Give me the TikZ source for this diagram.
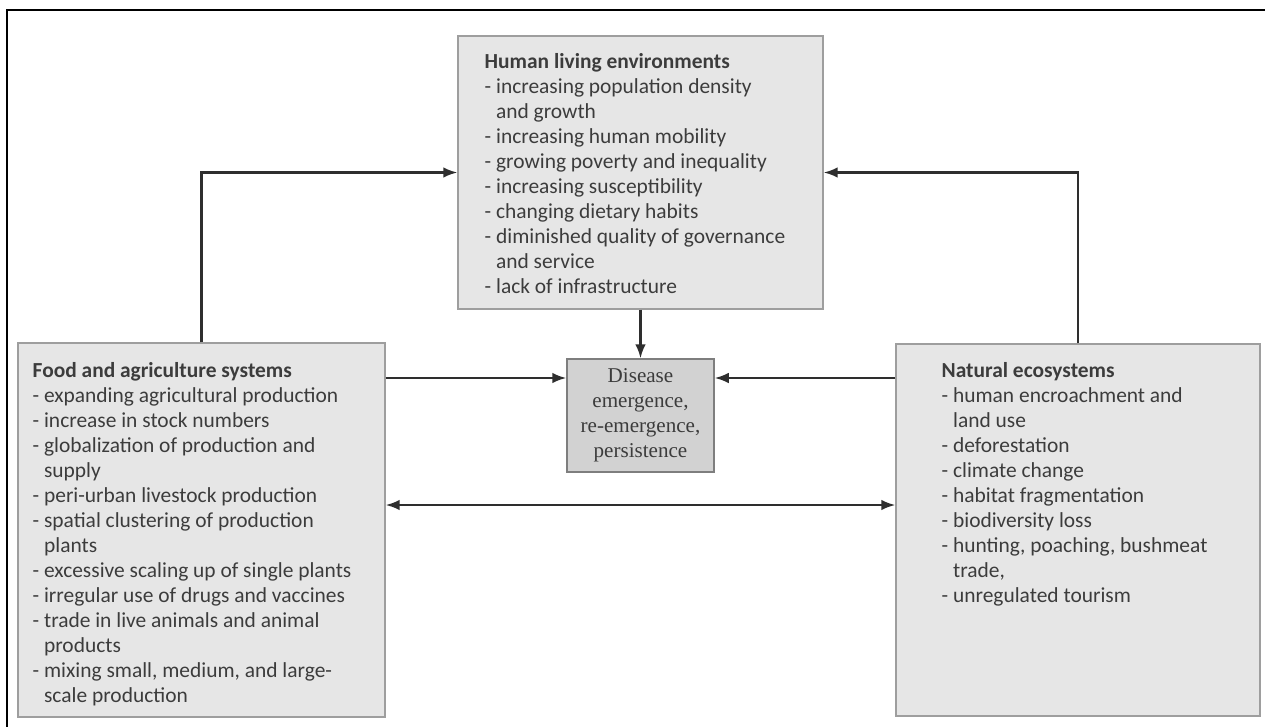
\documentclass[tikz,border=0pt]{standalone}
\usepackage{fontspec}
\setmainfont{Carlito}
\newfontfamily\diseasefont{Liberation Serif}
\usetikzlibrary{arrows.meta}
\definecolor{boxgray}{HTML}{E6E6E6}
\definecolor{darkgray}{HTML}{D2D2D2}
\definecolor{edgegray}{HTML}{9E9E9E}
\definecolor{txtgray}{HTML}{3C3C3C}
\definecolor{arrgray}{HTML}{2E2E2E}
\newcommand{\hang}{\hphantom{- }}

\begin{document}
\begin{tikzpicture}[x=0.02cm,y=-0.02cm,
    box/.style={draw=edgegray,fill=boxgray,line width=0.8pt,inner sep=0pt},
    list/.style={anchor=north west,inner sep=0pt,align=left,text=txtgray,
      font=\fontsize{12.2}{14.2}\selectfont},
    arr/.style={-{Latex[length=8pt,width=6pt]},line width=1.2pt,draw=arrgray},
    arrs/.style={{Latex[length=8pt,width=6pt]}-{Latex[length=8pt,width=6pt]},line width=1.2pt,draw=arrgray}]
  \useasboundingbox (0,0) rectangle (1265,727);
  \draw[line width=1.2pt] (7,727) -- (7,10) -- (1265,10);

  % the four boxes
  \node[box,minimum width=7.3cm,minimum height=5.46cm] (human) at (640.5,172.5) {};
  \node[box,minimum width=7.34cm,minimum height=7.48cm] (food) at (201.5,530) {};
  \node[box,minimum width=7.28cm,minimum height=7.44cm] (nature) at (1078,530) {};
  \node[box,fill=darkgray,draw=edgegray!80!black,minimum width=2.94cm,minimum height=2.26cm] (disease) at (640.5,415.5) {};

  \node[list] (humantxt) at ([shift={(27,18)}]human.north west)
    {\textbf{Human living environments}\\
     - increasing population density\\
     \hang and growth\\
     - increasing human mobility\\
     - growing poverty and inequality\\
     - increasing susceptibility\\
     - changing dietary habits\\
     - diminished quality of governance\\
     \hang and service\\
     - lack of infrastructure};
  \node[list] (foodtxt) at ([shift={(15,20)}]food.north west)
    {\textbf{Food and agriculture systems}\\
     - expanding agricultural production\\
     - increase in stock numbers\\
     - globalization of production and\\
     \hang supply\\
     - peri-urban livestock production\\
     - spatial clustering of production\\
     \hang plants\\
     - excessive scaling up of single plants\\
     - irregular use of drugs and vaccines\\
     - trade in live animals and animal\\
     \hang products\\
     - mixing small, medium, and large-\\
     \hang scale production};
  \node[list] (naturetxt) at ([shift={(46,19)}]nature.north west)
    {\textbf{Natural ecosystems}\\
     - human encroachment and\\
     \hang land use\\
     - deforestation\\
     - climate change\\
     - habitat fragmentation\\
     - biodiversity loss\\
     - hunting, poaching, bushmeat\\
     \hang trade,\\
     - unregulated tourism};
  \node[align=center,text=txtgray,font=\diseasefont\fontsize{12}{14.2}\selectfont] (diseasetxt) at (disease)
    {Disease\\emergence,\\re-emergence,\\persistence};

  % connectors
  \coordinate (upper) at (0,378);
  \coordinate (lower) at (0,505);
  \draw[arr] (food.north) |- (human.west);
  \draw[arr] (nature.north) |- (human.east);
  \draw[arr] (human.south) -- (disease.north);
  \draw[arr] (food.east |- upper) -- (disease.west |- upper);
  \draw[arr] (nature.west |- upper) -- (disease.east |- upper);
  \draw[arrs] (food.east |- lower) -- (nature.west |- lower);
\end{tikzpicture}
\end{document}
